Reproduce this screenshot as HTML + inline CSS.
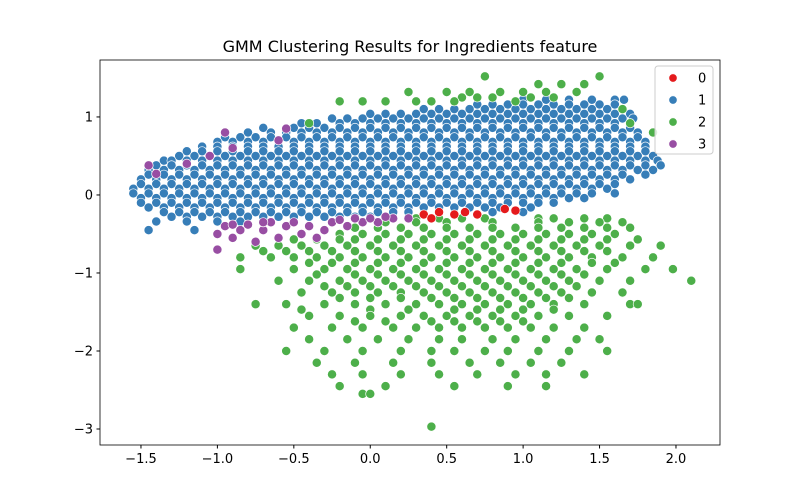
<!DOCTYPE html>
<html><head><meta charset="utf-8"><style>
body{margin:0;background:#fff;}
svg{display:block;font-family:"DejaVu Sans","Liberation Sans",sans-serif;}
</style></head><body>
<svg id="chart" width="800" height="500">
<rect width="800" height="500" fill="#fff"/>
<text x="410" y="52" text-anchor="middle" font-size="16">GMM Clustering Results for Ingredients feature</text>
<g id="points"></g>
<rect x="100" y="60" width="620" height="385" fill="none" stroke="#000" stroke-width="0.8"/>
<g id="axes"></g>
<g id="legend"></g>
</svg>
<script>
const xTicks=[-1.5,-1.0,-0.5,0.0,0.5,1.0,1.5,2.0];
const yTicks=[1,0,-1,-2,-3];
const clusterLabels=["0","1","2","3"];
const clusterColors=["#e41a1c","#377eb8","#4daf4a","#984ea3"];
// blue cluster rows: [y, [x...]]
const blueRows=[
[1.22,[1.0,1.15,1.3,1.45,1.6,1.66]],
[1.16,[0.7,0.8,0.9,1.0,1.1,1.2,1.3,1.4,1.5,1.6]],
[1.1,[0.35,0.45,0.55,0.65,0.75,0.85,0.95,1.05,1.15,1.25,1.35,1.45,1.55,1.65]],
[1.04,[0.0,0.1,0.2,0.3,0.4,0.5,0.6,0.7,0.8,0.9,1.0,1.1,1.2,1.3,1.4,1.5,1.6,1.7]],
[0.98,[-0.25,-0.15,-0.05,0.05,0.15,0.25,0.35,0.45,0.55,0.65,0.75,0.85,0.95,1.05,1.15,1.25,1.35,1.45,1.55,1.65,1.72]],
[0.92,[-0.45,-0.35,-0.2,-0.1,0,0.1,0.2,0.3,0.4,0.5,0.6,0.7,0.8,0.9,1.0,1.1,1.2,1.3,1.4,1.5,1.6,1.7]],
[0.86,[-0.7,-0.5,-0.4,-0.3,-0.2,-0.1,0,0.1,0.2,0.3,0.4,0.5,0.6,0.7,0.8,0.9,1.0,1.1,1.2,1.3,1.4,1.5,1.6,1.7]],
[0.8,[-0.8,-0.65,-0.55,-0.45,-0.35,-0.25,-0.15,-0.05,0.05,0.15,0.25,0.35,0.45,0.55,0.65,0.75,0.85,0.95,1.05,1.15,1.25,1.35,1.45,1.55,1.65,1.75]],
[0.74,[-0.95,-0.85,-0.75,-0.65,-0.55,-0.45,-0.35,-0.25,-0.15,-0.05,0.05,0.15,0.25,0.35,0.45,0.55,0.65,0.75,0.85,0.95,1.05,1.15,1.25,1.35,1.45,1.55,1.65,1.75]],
[0.68,[-1.0,-0.9,-0.8,-0.7,-0.6,-0.5,-0.4,-0.3,-0.2,-0.1,0,0.1,0.2,0.3,0.4,0.5,0.6,0.7,0.8,0.9,1.0,1.1,1.2,1.3,1.4,1.5,1.6,1.7,1.8]],
[0.62,[-1.1,-1.0,-0.9,-0.8,-0.7,-0.6,-0.5,-0.4,-0.3,-0.2,-0.1,0,0.1,0.2,0.3,0.4,0.5,0.6,0.7,0.8,0.9,1.0,1.1,1.2,1.3,1.4,1.5,1.6,1.7,1.8]],
[0.56,[-1.2,-1.1,-1.0,-0.9,-0.8,-0.7,-0.6,-0.5,-0.4,-0.3,-0.2,-0.1,0,0.1,0.2,0.3,0.4,0.5,0.6,0.7,0.8,0.9,1.0,1.1,1.2,1.3,1.4,1.5,1.6,1.7,1.8]],
[0.5,[-1.25,-1.15,-1.05,-0.95,-0.85,-0.75,-0.65,-0.55,-0.45,-0.35,-0.25,-0.15,-0.05,0.05,0.15,0.25,0.35,0.45,0.55,0.65,0.75,0.85,0.95,1.05,1.15,1.25,1.35,1.45,1.55,1.65,1.75,1.85]],
[0.44,[-1.35,-1.3,-1.2,-1.1,-1.0,-0.9,-0.8,-0.7,-0.6,-0.5,-0.4,-0.3,-0.2,-0.1,0,0.1,0.2,0.3,0.4,0.5,0.6,0.7,0.8,0.9,1.0,1.1,1.2,1.3,1.4,1.5,1.6,1.7,1.8,1.88]],
[0.38,[-1.4,-1.3,-1.2,-1.1,-1.0,-0.9,-0.8,-0.7,-0.6,-0.5,-0.4,-0.3,-0.2,-0.1,0,0.1,0.2,0.3,0.4,0.5,0.6,0.7,0.8,0.9,1.0,1.1,1.2,1.3,1.4,1.5,1.6,1.7,1.8,1.9]],
[0.32,[-1.45,-1.35,-1.25,-1.15,-1.05,-0.95,-0.85,-0.75,-0.65,-0.55,-0.45,-0.35,-0.25,-0.15,-0.05,0.05,0.15,0.25,0.35,0.45,0.55,0.65,0.75,0.85,0.95,1.05,1.15,1.25,1.35,1.45,1.55,1.65,1.75,1.85]],
[0.26,[-1.45,-1.35,-1.25,-1.15,-1.05,-0.95,-0.85,-0.75,-0.65,-0.55,-0.45,-0.35,-0.25,-0.15,-0.05,0.05,0.15,0.25,0.35,0.45,0.55,0.65,0.75,0.85,0.95,1.05,1.15,1.25,1.35,1.45,1.55,1.65,1.8]],
[0.2,[-1.5,-1.4,-1.3,-1.2,-1.1,-1.0,-0.9,-0.8,-0.7,-0.6,-0.5,-0.4,-0.3,-0.2,-0.1,0,0.1,0.2,0.3,0.4,0.5,0.6,0.7,0.8,0.9,1.0,1.1,1.2,1.3,1.4,1.5,1.6,1.7]],
[0.14,[-1.5,-1.4,-1.3,-1.2,-1.1,-1.0,-0.9,-0.8,-0.7,-0.6,-0.5,-0.4,-0.3,-0.2,-0.1,0,0.1,0.2,0.3,0.4,0.5,0.6,0.7,0.8,0.9,1.0,1.1,1.2,1.3,1.4,1.5,1.6]],
[0.08,[-1.55,-1.45,-1.35,-1.25,-1.15,-1.05,-0.95,-0.85,-0.75,-0.65,-0.55,-0.45,-0.35,-0.25,-0.15,-0.05,0.05,0.15,0.25,0.35,0.45,0.55,0.65,0.75,0.85,0.95,1.05,1.15,1.25,1.35,1.45,1.55]],
[0.02,[-1.55,-1.45,-1.35,-1.25,-1.15,-1.05,-0.95,-0.85,-0.75,-0.65,-0.55,-0.45,-0.35,-0.25,-0.15,-0.05,0.05,0.15,0.25,0.35,0.45,0.55,0.65,0.75,0.85,0.95,1.05,1.15,1.25,1.35,1.45,1.6]],
[-0.04,[-1.5,-1.4,-1.3,-1.2,-1.1,-1.0,-0.9,-0.8,-0.7,-0.6,-0.5,-0.4,-0.3,-0.2,-0.1,0,0.1,0.2,0.3,0.4,0.5,0.6,0.7,0.8,0.9,1.0,1.1,1.2,1.3,1.4]],
[-0.1,[-1.5,-1.4,-1.3,-1.2,-1.1,-1.0,-0.9,-0.8,-0.7,-0.6,-0.5,-0.4,-0.3,-0.2,-0.1,0,0.1,0.2,0.3,0.4,0.5,0.6,0.7,0.8,0.9,1.0,1.1,1.2]],
[-0.16,[-1.45,-1.35,-1.25,-1.15,-1.05,-0.95,-0.85,-0.75,-0.65,-0.55,-0.45,-0.35,-0.25,-0.15,-0.05,0.05,0.15,0.25,0.35,0.45,0.55,0.65,0.75,0.85,1.05]],
[-0.22,[-1.35,-1.25,-1.15,-1.05,-0.95,-0.85,-0.75,-0.65,-0.55,-0.45,-0.35,-0.25,-0.15,-0.05,0.05,0.15,0.25,0.8,1.0]],
[-0.28,[-1.3,-1.2,-1.1,-1.0,-0.9,-0.8,-0.7,-0.6,-0.5,-0.4,-0.3,-0.2,-0.1,0.0]],
[-0.34,[-1.4,-1.2,-1.0,-0.85]],
[-0.45,[-1.45,-1.15]]
];
const greenRows=[
[1.52,[0.75,1.5]],[1.42,[1.1,1.25,1.4]],[1.32,[0.25,0.5,0.65,0.85,1.0,1.15,1.35]],
[1.25,[0.6,0.7,0.8,1.05,1.2]],
[1.2,[-0.2,-0.05,0.1,0.3,0.4,0.55,0.95]],[0.92,[-0.4,1.7]],[1.1,[1.65]],[0.8,[1.85]],
[-0.3,[0.15,0.3,0.45,0.6,0.75,1.1,1.2,1.4,1.55]],
[-0.35,[0.1,0.3,0.5,0.8,1.1,1.3,1.5,1.65]],
[-0.42,[-0.1,0.05,0.2,0.35,0.5,0.65,0.8,0.95,1.1,1.25,1.4,1.55,1.7]],
[-0.5,[-0.2,-0.05,0.1,0.25,0.4,0.55,0.7,0.85,1.0,1.15,1.3,1.45,1.6]],
[-0.57,[-0.5,-0.35,-0.2,-0.1,0.05,0.2,0.35,0.5,0.65,0.8,0.95,1.1,1.25,1.4,1.55,1.75]],
[-0.65,[-0.75,-0.6,-0.45,-0.3,-0.15,0,0.15,0.3,0.45,0.6,0.75,0.9,1.05,1.2,1.35,1.5,1.7,1.9]],
[-0.72,[-0.7,-0.55,-0.4,-0.25,-0.1,0.05,0.2,0.35,0.5,0.65,0.8,0.95,1.1,1.25,1.4,1.55]],
[-0.8,[-0.85,-0.65,-0.5,-0.35,-0.2,-0.05,0.1,0.25,0.4,0.55,0.7,0.85,1.0,1.15,1.3,1.45,1.65,1.85]],
[-0.87,[-0.4,-0.25,-0.1,0.05,0.2,0.35,0.5,0.65,0.8,0.95,1.1,1.25,1.45,1.6]],
[-0.95,[-0.85,-0.5,-0.3,-0.15,0,0.15,0.3,0.45,0.6,0.75,0.9,1.05,1.2,1.35,1.55,1.8,1.98]],
[-1.02,[-0.35,-0.1,0.05,0.2,0.35,0.5,0.65,0.8,0.95,1.1,1.25,1.4]],
[-1.1,[-0.6,-0.4,-0.2,-0.05,0.1,0.25,0.4,0.55,0.7,0.85,1.0,1.15,1.3,1.5,1.7,2.1]],
[-1.17,[-0.3,-0.15,0.0,0.15,0.3,0.45,0.6,0.75,0.9,1.05,1.2,1.35]],
[-1.25,[-0.45,-0.25,-0.1,0.05,0.2,0.35,0.5,0.65,0.8,0.95,1.1,1.25,1.45,1.65]],
[-1.32,[-0.2,0.0,0.2,0.4,0.55,0.7,0.85,1.0,1.15,1.3]],
[-1.4,[-0.75,-0.55,-0.3,-0.1,0.1,0.3,0.45,0.6,0.75,0.9,1.05,1.2,1.4,1.7,1.75]],
[-1.47,[-0.45,0.0,0.25,0.55,0.7,0.85,1.0,1.2]],
[-1.55,[-0.4,-0.2,0,0.2,0.35,0.5,0.65,0.8,0.95,1.1,1.3,1.55]],
[-1.62,[-0.1,0.1,0.4,0.55,0.7,0.85,1.0]],
[-1.7,[-0.5,-0.25,-0.05,0.15,0.3,0.45,0.6,0.75,0.9,1.05,1.2,1.4]],
[-1.85,[-0.4,-0.15,0.05,0.25,0.45,0.6,0.8,0.95,1.15,1.35,1.5]],
[-2.0,[-0.55,-0.3,-0.05,0.2,0.4,0.55,0.75,0.9,1.1,1.3,1.55]],
[-2.15,[-0.35,-0.1,0.15,0.4,0.65,0.85,1.05,1.25]],
[-2.3,[-0.25,-0.05,0.2,0.45,0.7,0.95,1.15,1.4]],
[-2.45,[-0.2,0.1,0.55,0.9,1.15]],
[-2.55,[-0.05,0.0]],
[-2.97,[0.4]]
];
const purpleX=[-1.45,-1.4,-1.2,-0.95,-0.9,-0.6,-0.55,-1.05,-1.0,-0.9,-0.85,-0.75,-0.7,-0.6,-0.55,-0.45,-0.4,-0.3,-0.25,-0.15,-0.05,0.05,0.15,-0.65,-0.35,-0.95,0.25,-1.0,-0.8,-0.5,-0.2,-0.1,0.0,0.1,-0.9,-0.7];
const purpleY=[0.38,0.27,0.4,0.8,0.6,0.7,0.85,0.5,-0.5,-0.55,-0.45,-0.6,-0.45,-0.55,-0.4,-0.5,-0.4,-0.45,-0.35,-0.4,-0.35,-0.35,-0.3,-0.35,-0.55,-0.4,-0.3,-0.7,-0.38,-0.35,-0.32,-0.3,-0.3,-0.28,-0.38,-0.35];
const redX=[0.35,0.45,0.55,0.62,0.7,0.88,0.95,0.4];
const redY=[-0.25,-0.22,-0.25,-0.22,-0.25,-0.18,-0.2,-0.3];

const NS="http://www.w3.org/2000/svg";
const xMin=-1.768,xMax=2.288,yMin=-3.205,yMax=1.73;
const L=100,R=720,T=60,B=445;
function sx(v){return L+(v-xMin)/(xMax-xMin)*(R-L);}
function sy(v){return B-(v-yMin)/(yMax-yMin)*(B-T);}
const pts=document.getElementById('points');
function dot(x,y,c){
  const el=document.createElementNS(NS,'circle');
  el.setAttribute('cx',sx(x));el.setAttribute('cy',sy(y));el.setAttribute('r',4.6);
  el.setAttribute('fill',clusterColors[c]);el.setAttribute('stroke','#fff');el.setAttribute('stroke-width','0.7');
  
  
  pts.appendChild(el);
}
blueRows.forEach(r=>r[1].forEach(x=>dot(x,r[0],1)));
greenRows.forEach(r=>r[1].forEach(x=>dot(x,r[0],2)));
purpleX.forEach((x,i)=>dot(x,purpleY[i],3));
redX.forEach((x,i)=>dot(x,redY[i],0));

const ax=document.getElementById('axes');
xTicks.forEach(t=>{
  const X=sx(t);
  const l=document.createElementNS(NS,'line');
  l.setAttribute('x1',X);l.setAttribute('x2',X);l.setAttribute('y1',B);l.setAttribute('y2',B+3.5);l.setAttribute('stroke','#000');
  
  
  ax.appendChild(l);
  const tx=document.createElementNS(NS,'text');
  tx.setAttribute('x',X);tx.setAttribute('y',B+18);tx.setAttribute('text-anchor','middle');tx.setAttribute('font-size','13');
  tx.textContent=(t<0?'\u2212':'')+Math.abs(t).toFixed(1);
  
  
  ax.appendChild(tx);
});
yTicks.forEach(t=>{
  const Y=sy(t);
  const l=document.createElementNS(NS,'line');
  l.setAttribute('x1',L-3.5);l.setAttribute('x2',L);l.setAttribute('y1',Y);l.setAttribute('y2',Y);l.setAttribute('stroke','#000');
  
  
  ax.appendChild(l);
  const tx=document.createElementNS(NS,'text');
  tx.setAttribute('x',L-7);tx.setAttribute('y',Y+4.5);tx.setAttribute('text-anchor','end');tx.setAttribute('font-size','13');
  tx.textContent=(t<0?'\u2212':'')+Math.abs(t);
  
  
  ax.appendChild(tx);
});
const lg=document.getElementById('legend');
const box=document.createElementNS(NS,'rect');
box.setAttribute('x',655);box.setAttribute('y',66);box.setAttribute('width',58);box.setAttribute('height',88);box.setAttribute('rx',3);
box.setAttribute('fill','#fff');box.setAttribute('fill-opacity','0.8');box.setAttribute('stroke','#ccc');


lg.appendChild(box);
clusterLabels.forEach((lab,i)=>{
  const y=78+i*22;
  const c=document.createElementNS(NS,'circle');
  c.setAttribute('cx',673);c.setAttribute('cy',y);c.setAttribute('r',4.2);c.setAttribute('fill',clusterColors[i]);c.setAttribute('stroke','#fff');c.setAttribute('stroke-width','0.7');
  
  
  lg.appendChild(c);
  const t=document.createElementNS(NS,'text');
  t.setAttribute('x',698);t.setAttribute('y',y+4.5);t.setAttribute('font-size','13');t.textContent=lab;
  
  
  lg.appendChild(t);
});
</script>
</body></html>
